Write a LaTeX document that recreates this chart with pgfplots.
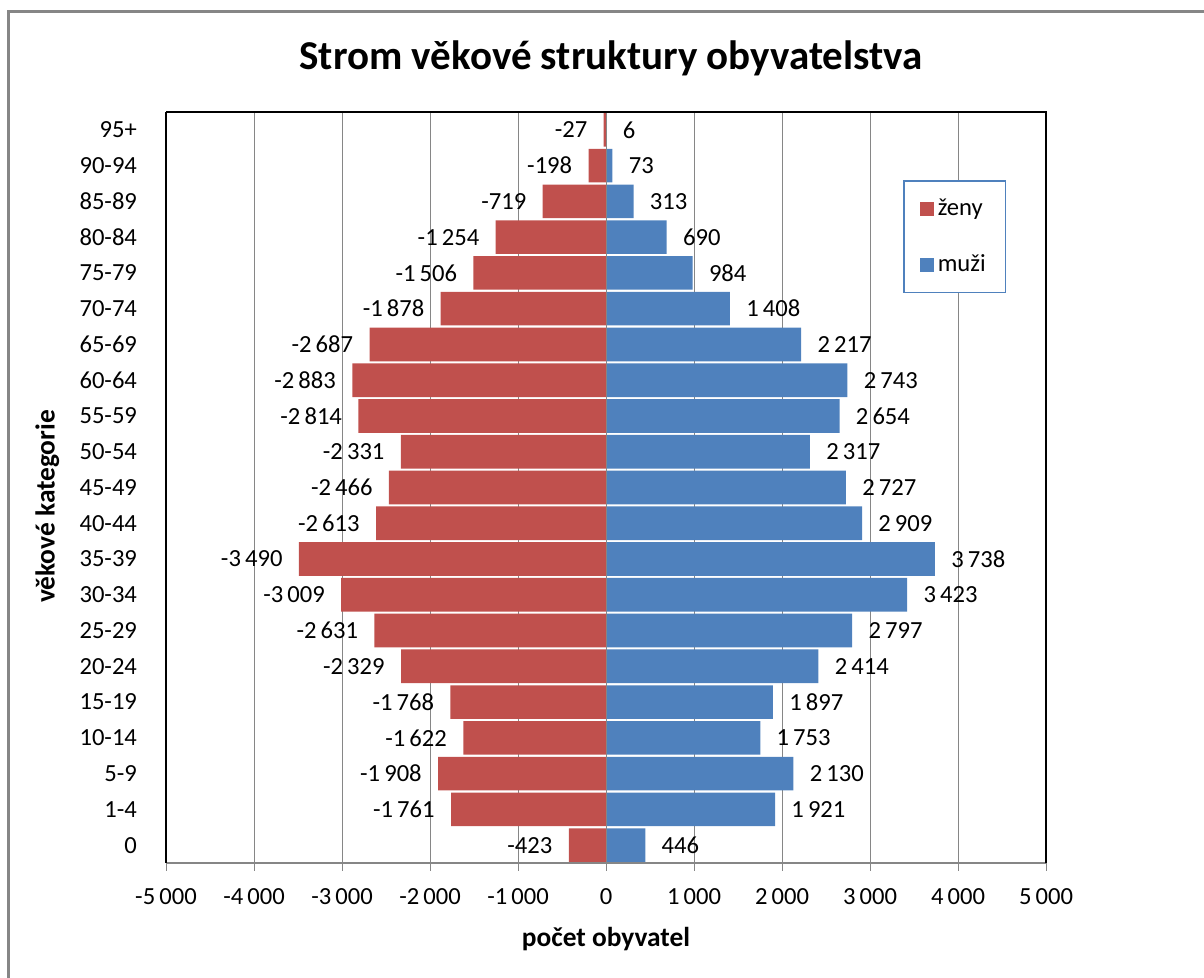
\documentclass[border=0pt]{standalone}
\usepackage{fontspec}
\setmainfont{Carlito}
\usepackage{pgfplots}
\pgfplotsset{compat=1.18}
\definecolor{zeny}{RGB}{192,80,77}
\definecolor{muzi}{RGB}{79,129,189}
\definecolor{gridc}{RGB}{134,134,134}

\begin{document}
\begin{tikzpicture}
\useasboundingbox (0,0) rectangle (602pt,489pt);
% outer chart frame (only left and top edges are inside the picture)
\draw[gridc, line width=1.5pt] (4pt,-5pt) -- (4pt,483pt) -- (610pt,483pt);
\begin{axis}[
    at={(83pt,57.5pt)}, anchor=south west,
    scale only axis,
    width=440pt, height=375.5pt,
    xbar, bar shift=0pt, bar width=0.94,
    xmin=-5000, xmax=5000,
    ymin=-0.5, ymax=20.5,
    xtick={-5000,-4000,...,5000},
    ytick={0,...,20},
    yticklabels={0,1-4,5-9,10-14,15-19,20-24,25-29,30-34,35-39,40-44,45-49,50-54,55-59,60-64,65-69,70-74,75-79,80-84,85-89,90-94,95+},
    scaled x ticks=false,
    /pgf/number format/1000 sep={\,},
    /pgf/number format/assume math mode=true,
    xmajorgrids,
    grid style={gridc, line width=0.5pt},
    axis line style={draw=none},
    tick align=outside,
    xtick pos=left,
    major tick length=4pt,
    xtick style={gridc, line width=0.5pt},
    ytick style={draw=none},
    tick label style={font=\fontsize{12.3}{14}\selectfont},
    xticklabel style={yshift=-5pt},
    yticklabel style={xshift=-7pt},
    title={Strom věkové struktury obyvatelstva},
    title style={at={(0.5057,1.0692)}, anchor=center, yshift=-5pt, font=\fontsize{20.5}{24}\selectfont\bfseries},
    xlabel={počet obyvatel},
    xlabel style={at={(0.5,-0.0985)}, anchor=center, yshift=-1pt, font=\fontsize{13.7}{16}\selectfont\bfseries},
    ylabel={věkové kategorie},
    ylabel style={at={(-0.1347,0.4747)}, anchor=center, font=\fontsize{13.7}{16}\selectfont\bfseries},
    nodes near coords,
    point meta=x,
    nodes near coords align=horizontal,
    every node near coord/.append style={font=\fontsize{12.3}{14}\selectfont, text=black, inner xsep=8pt, inner ysep=0pt},
    clip=false,
    legend style={at={(0.8375,0.909)}, anchor=north west, draw=muzi, line width=0.75pt,
        font=\fontsize{12.3}{14}\selectfont, inner xsep=8pt, inner ysep=7pt, row sep=14pt,
        /tikz/every even column/.append style={column sep=1pt}},
    legend cell align=left,
    legend image code/.code={\fill[#1, draw=none] (0pt,-3.5pt) rectangle (7pt,3.5pt);},
    extra description/.code={
        \draw[gridc, line width=0.5pt] (0.5,0) -- (0.5,1);
        \draw[gridc, line width=0.75pt] (0,0) -- (1,0);
        \draw[black, line width=0.75pt] (0,0) -- (0,1);
        \draw[black, line width=1pt] (0,1) -- (1,1) -- (1,0);
    },
]

\addplot[fill=zeny, draw=none] coordinates {
    (-423,0) (-1761,1) (-1908,2) (-1622,3) (-1768,4) (-2329,5) (-2631,6)
    (-3009,7) (-3490,8) (-2613,9) (-2466,10) (-2331,11) (-2814,12) (-2883,13)
    (-2687,14) (-1878,15) (-1506,16) (-1254,17) (-719,18) (-198,19) (-27,20)
};
\addlegendentry{ženy}

\addplot[fill=muzi, draw=none] coordinates {
    (446,0) (1921,1) (2130,2) (1753,3) (1897,4) (2414,5) (2797,6)
    (3423,7) (3738,8) (2909,9) (2727,10) (2317,11) (2654,12) (2743,13)
    (2217,14) (1408,15) (984,16) (690,17) (313,18) (73,19) (6,20)
};
\addlegendentry{muži}

\end{axis}
\end{tikzpicture}
\end{document}
